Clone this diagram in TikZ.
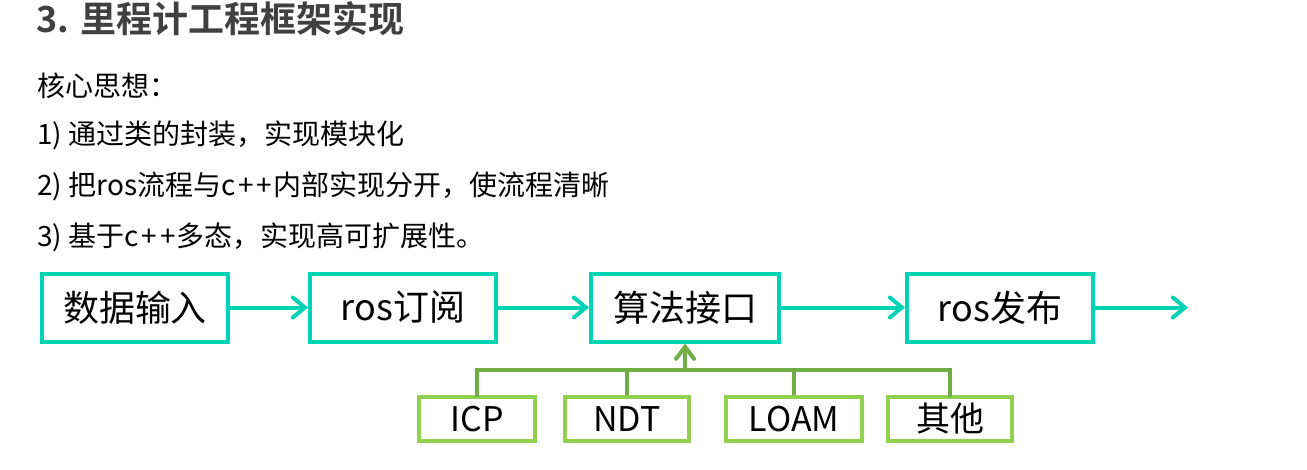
\documentclass[tikz,border=0pt]{standalone}
\usepackage{fontspec}
\setmainfont{Noto Sans CJK SC}[BoldFont={Noto Sans CJK SC Bold}]
\usetikzlibrary{arrows.meta}
\definecolor{flowteal}{RGB}{0,212,180}
\definecolor{linkgreen}{RGB}{112,173,71}
\definecolor{algogreen}{RGB}{146,208,80}
\definecolor{titlegray}{RGB}{64,64,64}
\newcommand{\cpp}{c\kern3pt+\kern3pt+\kern1pt}
\tikzset{
    flowbox/.style = {draw = flowteal, line width = 4pt, minimum height = 68pt, inner sep = 0pt, font = \fontsize{36}{40}\selectfont},
    algobox/.style = {draw = algogreen, line width = 4pt, minimum height = 44pt, inner sep = 0pt, font = \fontsize{34}{38}\selectfont},
    flowarrow/.style = {draw = flowteal, line width = 4pt, -{Straight Barb[length = 12pt, width = 20pt, line cap = round]}},
    linkline/.style = {draw = linkgreen, line width = 4pt},
    textline/.style = {anchor = west, inner sep = 0pt, font = \fontsize{28}{32}\selectfont}
}
\begin{document}
\begin{tikzpicture}[x = 1pt, y = -1pt]
                        \useasboundingbox (0, 0) rectangle (1307, 469);
                        \node [anchor = west, inner sep = 0pt, text = titlegray, font = \fontsize{36}{40}\selectfont\bfseries] (title) at (36, 19) {3. 里程计工程框架实现};
                        \node [textline] (idea) at (37, 86) {核心思想：};
                        \node [textline] (pointa) at (37, 135) {1) 通过类的封装，实现模块化};
                        \node [textline] (pointb) at (37, 186) {2) 把ros流程与\cpp 内部实现分开，使流程清晰};
                        \node [textline] (pointc) at (37, 237) {3) 基于\cpp 多态，实现高可扩展性。};
                        % main flow
                        \node [flowbox, minimum width = 186pt] (input) at (135, 307.5) {数据输入};
                        \node [flowbox, minimum width = 186pt] (subscribe) at (403, 307.5) {ros订阅};
                        \node [flowbox, minimum width = 188pt] (algo) at (685, 307.5) {算法接口};
                        \node [flowbox, minimum width = 186pt] (publish) at (1000, 307.5) {ros发布};
                        \coordinate (output) at (1188, 307.5);
                        \draw [flowarrow] (input) -- (subscribe);
                        \draw [flowarrow] (subscribe) -- (algo);
                        \draw [flowarrow] (algo) -- (publish);
                        \draw [flowarrow] (publish) -- (output);
                        % algorithms
                        \node [algobox, minimum width = 116pt] (icp) at (477, 419) {ICP};
                        \node [algobox, minimum width = 124pt] (ndt) at (627, 419) {NDT};
                        \node [algobox, minimum width = 136pt] (loam) at (794, 419) {LOAM};
                        \node [algobox, minimum width = 124pt] (other) at (950, 419) {其他};
                        \coordinate (joint) at (685, 370);
                        \draw [linkline, line cap = rect] (icp.north) |- (joint) -| (other.north);
                        \draw [linkline] (ndt.north) -- (ndt.north |- joint);
                        \draw [linkline] (loam.north) -- (loam.north |- joint);
                        \draw [linkline, -{Straight Barb[length = 12pt, width = 18pt, line cap = round]}] (joint) -- (algo.south);
\end{tikzpicture}
\end{document}
